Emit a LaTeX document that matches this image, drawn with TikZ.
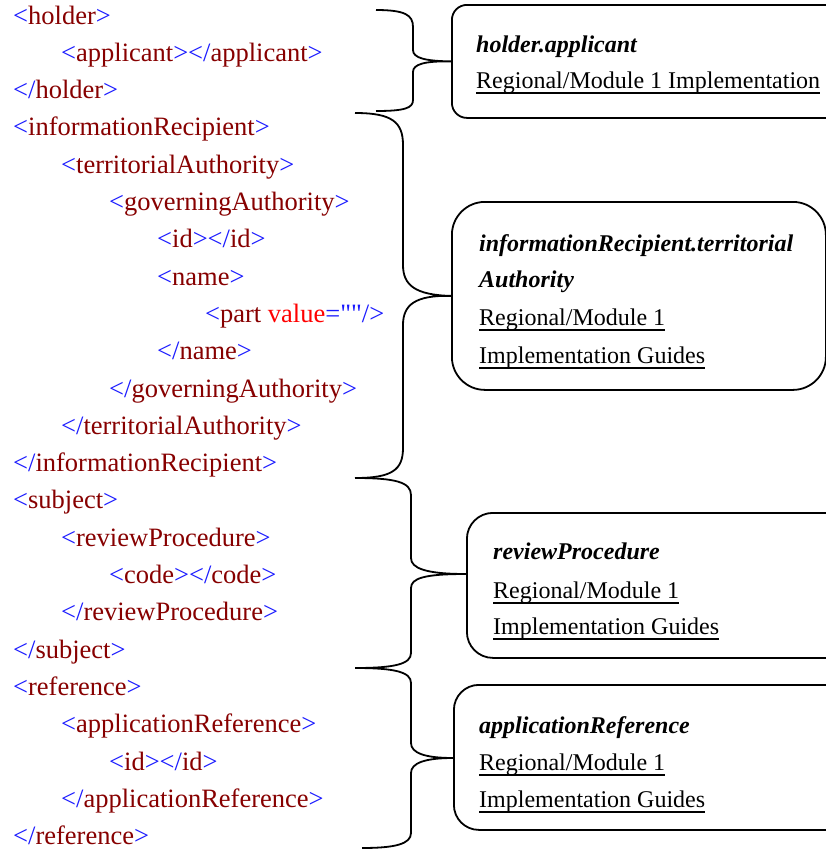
\documentclass[tikz,border=0pt]{standalone}
\usepackage{fontspec}
\setmainfont{Liberation Serif}
\newfontfamily\rawfont{Liberation Serif}[Ligatures=TeXOff]
\definecolor{xb}{RGB}{25,25,255}
\definecolor{xr}{RGB}{135,0,0}
\definecolor{xv}{RGB}{255,0,0}
\newcommand\xo[1]{\textcolor{xb}{<}\textcolor{xr}{#1}\textcolor{xb}{>}}
\newcommand\xc[1]{\textcolor{xb}{</}\textcolor{xr}{#1}\textcolor{xb}{>}}
\newsavebox\ubox
\newcommand\uln[1]{\sbox\ubox{#1}\rlap{\rule[-5.5pt]{\wd\ubox}{1.4pt}}\usebox\ubox}
\tikzset{
  xml/.style={anchor=base west, inner sep=0pt, font=\fontsize{26.5}{30}\selectfont},
  btxt/.style={anchor=base west, inner sep=0pt, font=\fontsize{24}{28}\selectfont},
  bttl/.style={btxt, font=\fontsize{24}{28}\selectfont\bfseries\itshape},
  infobox/.style={draw, line width=1.8pt, anchor=north west, inner sep=0pt},
  brace/.style={draw, line width=1.8pt},
}
\begin{document}
\begin{tikzpicture}[x=1pt,y=-1pt]
\useasboundingbox (0,0) rectangle (826,852);
\fill[white] (0,0) rectangle (826,852);
\clip (0,0) rectangle (826,852);
% XML lines
\node[xml] (l0) at (13,24) {\xo{holder}};
\node[xml] (l1) at (61,61.3) {\xo{applicant}\xc{applicant}};
\node[xml] (l2) at (13,98.6) {\xc{holder}};
\node[xml] (l3) at (13,135.9) {\xo{informationRecipient}};
\node[xml] (l4) at (61,173.2) {\xo{territorialAuthority}};
\node[xml] (l5) at (109,210.5) {\xo{governingAuthority}};
\node[xml] (l6) at (157,247.8) {\xo{id}\xc{id}};
\node[xml] (l7) at (157,285.1) {\xo{name}};
\node[xml] (l8) at (205,322.4) {\textcolor{xb}{<}\textcolor{xr}{part }\textcolor{xv}{value}\textcolor{xb}{={\rawfont ""}/>}};
\node[xml] (l9) at (157,359.7) {\xc{name}};
\node[xml] (l10) at (109,397) {\xc{governingAuthority}};
\node[xml] (l11) at (61,434.3) {\xc{territorialAuthority}};
\node[xml] (l12) at (13,471.6) {\xc{informationRecipient}};
\node[xml] (l13) at (13,508.9) {\xo{subject}};
\node[xml] (l14) at (61,546.2) {\xo{reviewProcedure}};
\node[xml] (l15) at (109,583.5) {\xo{code}\xc{code}};
\node[xml] (l16) at (61,620.8) {\xc{reviewProcedure}};
\node[xml] (l17) at (13,658.1) {\xc{subject}};
\node[xml] (l18) at (13,695.4) {\xo{reference}};
\node[xml] (l19) at (61,732.7) {\xo{applicationReference}};
\node[xml] (l20) at (109,770) {\xo{id}\xc{id}};
\node[xml] (l21) at (61,807.3) {\xc{applicationReference}};
\node[xml] (l22) at (13,844.6) {\xc{reference}};
% boxes
\node[infobox, rounded corners=15pt, minimum width=420pt, minimum height=113pt] (box1) at (451,4) {};
\node[infobox, rounded corners=33pt, minimum width=374pt, minimum height=188pt] (box2) at (451,201) {};
\node[infobox, rounded corners=26pt, minimum width=420pt, minimum height=145pt] (box3) at (466,512) {};
\node[infobox, rounded corners=25pt, minimum width=420pt, minimum height=145pt] (box4) at (453,684) {};
% box texts
\node[bttl] (t1a) at (476,52) {holder.applicant};
\node[btxt] (t1b) at (476,88) {\uln{Regional/Module 1 Implementation}};
\node[bttl] (t2a) at (479,251) {informationRecipient.territorial};
\node[bttl] (t2b) at (479,287) {Authority};
\node[btxt] (t2c) at (479,325) {\uln{Regional/Module 1}};
\node[btxt] (t2d) at (479,363) {\uln{Implementation Guides}};
\node[bttl] (t3a) at (493,559) {reviewProcedure};
\node[btxt] (t3b) at (493,598) {\uln{Regional/Module 1}};
\node[btxt] (t3c) at (493,634) {\uln{Implementation Guides}};
\node[bttl] (t4a) at (479,733) {applicationReference};
\node[btxt] (t4b) at (479,770) {\uln{Regional/Module 1}};
\node[btxt] (t4c) at (479,807) {\uln{Implementation Guides}};
% brace end points
\coordinate (b1t) at (376,10);
\coordinate (b1b) at (376,111);
\coordinate (tip1) at (box1.west);
\coordinate (b2t) at (355,113);
\coordinate (b2b) at (355,478);
\coordinate (tip2) at (box2.west);
\coordinate (b3b) at (355,668);
\coordinate (tip3) at (466,574);
\coordinate (b4b) at (362,848);
\coordinate (tip4) at (453,758);
% braces
\draw[brace] (b1t) .. controls (405,10) and (413,15) .. (413,27) -- (413,50)
  .. controls (413,58) and (425,61) .. (tip1)
  .. controls (425,61) and (413,64) .. (413,72) -- (413,100)
  .. controls (413,108) and (405,111) .. (b1b);
\draw[brace] (b2t) .. controls (392,113) and (403,122) .. (403,145) -- (403,265)
  .. controls (403,285) and (415,295) .. (tip2)
  .. controls (415,295) and (403,305) .. (403,325) -- (403,448)
  .. controls (403,470) and (392,478) .. (b2b);
\draw[brace] (b2b) .. controls (395,478) and (411,482) .. (411,495) -- (411,558)
  .. controls (411,568) and (425,574) .. (tip3)
  .. controls (425,574) and (411,578) .. (411,588) -- (411,653)
  .. controls (411,664) and (395,668) .. (b3b);
\draw[brace] (b3b) .. controls (395,668) and (411,672) .. (411,683) -- (411,743)
  .. controls (411,753) and (425,758) .. (tip4)
  .. controls (425,758) and (411,763) .. (411,773) -- (411,833)
  .. controls (411,844) and (395,848) .. (b4b);
\end{tikzpicture}
\end{document}
